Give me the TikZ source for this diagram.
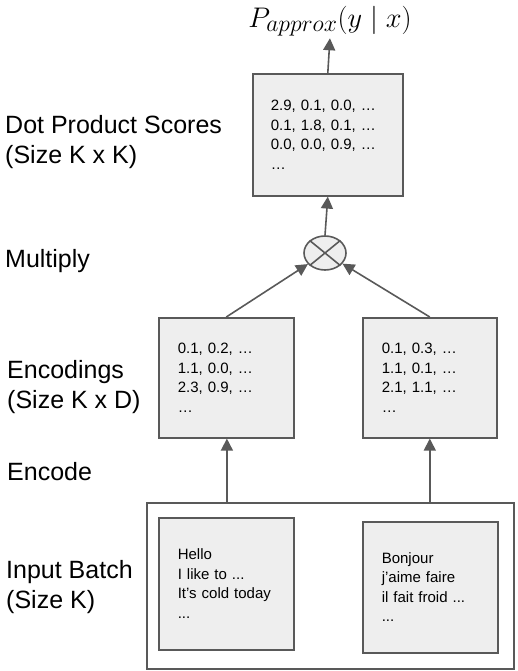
\documentclass[tikz,border=0pt]{standalone}
\usepackage{graphicx}
\usepackage{fontspec}
\setmainfont{Liberation Sans}
\usetikzlibrary{shapes.geometric,arrows.meta}
\definecolor{boxfill}{HTML}{EEEEEE}
\definecolor{boxline}{HTML}{595959}
\tikzset{
  databox/.style={draw=boxline, line width=1.6pt, fill=boxfill, align=left,
    inner xsep=18pt, inner ysep=0pt, font=\fontsize{15}{19.5}\selectfont,
    anchor=north west},
  lbl/.style={anchor=west, align=left, inner sep=0pt, font=\fontsize{25}{30}\selectfont},
  arr/.style={draw=boxline, line width=1.6pt, -{Triangle[length=12pt,width=12pt]}},
  conn/.style={draw=boxline, line width=1.6pt}
}
\begin{document}
\begin{tikzpicture}[x=1pt,y=-1pt]
\useasboundingbox (0,0) rectangle (517,671);
% title
\node[inner sep=1pt, font=\fontsize{24.88}{28}\selectfont] (title) at (330,21) {\scalebox{1.14}{$P_{approx}(y\mid x)$}};
% top box
\node[databox, text width=114pt, minimum height=122pt] (dot) at (252,73)
  {2.9, 0.1, 0.0, \dots\\0.1, 1.8, 0.1, \dots\\0.0, 0.0, 0.9, \dots\\\dots};
% multiply
\node[draw=boxline, line width=1.6pt, fill=boxfill, ellipse, minimum width=42pt, minimum height=34pt, inner sep=0pt] (mul) at (325,253) {};
\draw[conn] (mul.north east) -- (mul.south west);
\draw[conn] (mul.north west) -- (mul.south east);
% encodings
\node[databox, text width=97pt, minimum height=120pt, inner xsep=19pt] (encL) at (158,317)
  {0.1, 0.2, \dots\\1.1, 0.0, \dots\\2.3, 0.9, \dots\\\dots};
\node[databox, text width=96pt, minimum height=120pt, inner xsep=19pt] (encR) at (362,317)
  {0.1, 0.3, \dots\\1.1, 0.1, \dots\\2.1, 1.1, \dots\\\dots};
% input batch
\node[draw=boxline, line width=1.6pt, fill=white, minimum width=367pt, minimum height=166pt, anchor=north west] (input) at (146,502) {};
\node[databox, text width=97pt, minimum height=132pt, inner xsep=19pt] (inL) at (158,517)
  {Hello\\I like to ...\\It's cold today\\...};
\node[databox, text width=97pt, minimum height=131pt, inner xsep=19pt] (inR) at (362,521)
  {Bonjour\\j'aime faire\\il fait froid ...\\...};
% connectors
\draw[arr, shorten >=1pt] (dot.north) -- (title.south);
\draw[arr] (mul.north) -- (dot.south);
\draw[arr] (encL.north) -- (mul);
\draw[arr] (encR.north) -- (mul);
\draw[arr] ([xshift=0.6pt]input.north -| encL.south) -- ([xshift=0.6pt]encL.south);
\draw[arr] (input.north -| encR.south) -- (encR.south);
% labels
\node[lbl] (l1) at (5,142) {Dot Product Scores\\(Size K x K)};
\node[lbl] (l2) at (5,261) {Multiply};
\node[lbl] (l3) at (7,387) {Encodings\\(Size K x D)};
\node[lbl] (l4) at (7,472) {Encode};
\node[lbl] (l5) at (6,587) {Input Batch\\(Size K)};
\end{tikzpicture}
\end{document}
